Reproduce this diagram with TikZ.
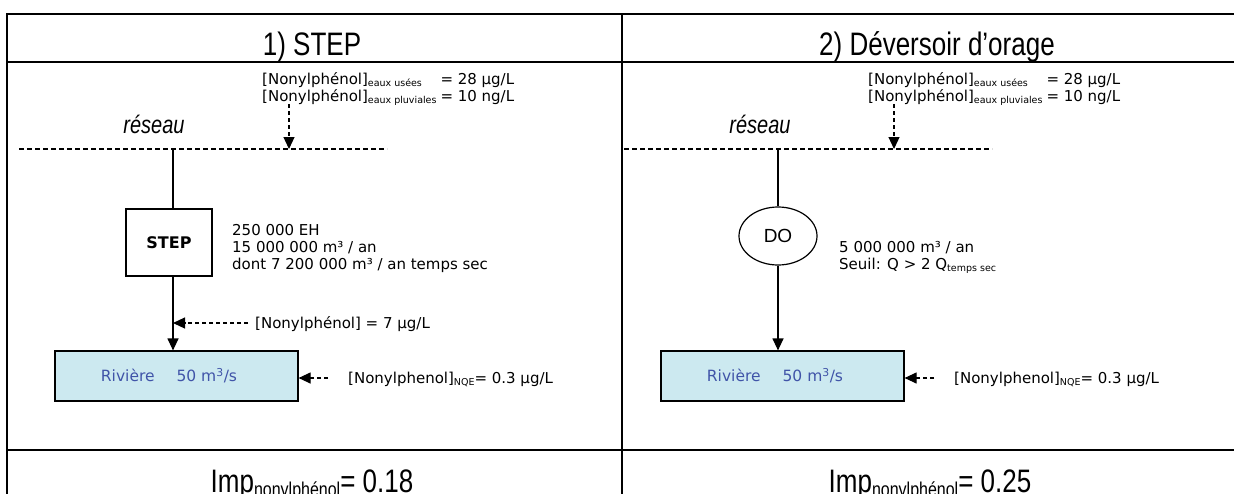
\documentclass[tikz,border=0pt]{standalone}
\usepackage{graphicx}
\usepackage{fontspec}
\setmainfont{DejaVu Sans}
\newfontfamily\arialfont{Liberation Sans}
\usetikzlibrary{arrows.meta,shapes.geometric}

\definecolor{riverfill}{RGB}{204,233,240}
\definecolor{rivertext}{RGB}{64,84,168}

\newcommand\lowtxt[2][9.5]{\raisebox{-0.15em}{\fontsize{#1}{#1}\selectfont #2}}
\newcommand\tall[1]{\scalebox{1}[1.25]{#1}}
\newcommand\nonyl{{[}Nonylphénol{]}}

\tikzset{
  rule/.style={line width=2.4pt},
  pipe/.style={line width=1.2pt},
  flow/.style={line width=1.2pt,-{Triangle[length=12pt,width=11pt]}},
  feed/.style={line width=1.2pt,dash pattern=on 4pt off 3pt,-{Triangle[length=12pt,width=11pt]}},
  net/.style={line width=1.2pt,dash pattern=on 5pt off 3pt},
  info/.style={anchor=base west,inner sep=0pt,font=\fontsize{15}{17}\selectfont},
  headtxt/.style={anchor=base,inner sep=0pt,font=\arialfont\fontsize{26}{28}\selectfont},
  restxt/.style={anchor=base,inner sep=0pt,font=\arialfont\itshape\fontsize{20}{22}\selectfont},
  imptxt/.style={anchor=base,inner sep=0pt,font=\arialfont\fontsize{26}{28}\selectfont},
  river/.style={draw,line width=1.2pt,fill=riverfill,text=rivertext,minimum width=243pt,
    minimum height=50pt,inner sep=0pt,font=\fontsize{15.5}{17}\selectfont},
}

\begin{document}
\begin{tikzpicture}[x=1pt,y=-1pt]
    \useasboundingbox (0,0) rectangle (1234,493);
    % table
    \draw[rule] (7,520) -- (7,14) -- (1250,14);
    \draw[rule] (7,62) -- (1250,62);
    \draw[rule] (7,450) -- (1250,450);
    \draw[rule] (622,14) -- (622,520);
    \node[headtxt] (head1) at (312,55) {\tall{1) STEP}};
    \node[headtxt] (head2) at (937,55) {\tall{2) Déversoir d’orage}};

    % 1) STEP
    \node[info] (conc1) at (262,84) {\begin{tabular}[t]{@{}l@{\hspace{4pt}}l@{}}
        \nonyl\lowtxt{eaux usées} & = 28 µg/L\\
        \nonyl\lowtxt{eaux pluviales} & = 10 ng/L\end{tabular}};
    \node[restxt] (res1) at (154,133) {\tall{réseau}};
    \coordinate (net1a) at (19,149);
    \coordinate (net1b) at (387,149);
    \draw[net] (net1a) -- (net1b);
    \coordinate (in1) at (289,104);
    \draw[feed] (in1) -- (in1 |- net1a);
    \node[draw,line width=1.2pt,minimum width=86pt,minimum height=67pt,inner sep=0pt,
      font=\bfseries\fontsize{16}{18}\selectfont] (step) at (169,242.5) {STEP};
    \coordinate (jn1) at (173,149);
    \draw[pipe] (jn1) -- (jn1 |- step.north);
    \node[info] (data1) at (232,235) {\begin{tabular}[t]{@{}l@{}}
        250 000 EH\\
        15 000 000 m³ / an\\
        dont 7 200 000 m³ / an temps sec\end{tabular}};
    \node[river] (riv1) at (176.5,376) {Rivière\hspace{22pt}50 m\textsuperscript{3}/s\hspace*{15pt}};
    \draw[flow] (jn1 |- step.south) -- (jn1 |- riv1.north);
    % effluent
    \coordinate (eff1) at (248,323);
    \draw[feed] (eff1) -- (eff1 -| jn1);
    \node[info] (out1) at (255,328) {\nonyl{} = 7 µg/L};
    % NQE
    \coordinate (nq1) at (328,378);
    \draw[feed] (nq1) -- (nq1 -| riv1.east);
    \node[info] (nqe1) at (348,383) {{[}Nonylphenol{]}\lowtxt{NQE}= 0.3 µg/L};
    \node[imptxt] (imp1) at (312,492) {\tall{Imp\lowtxt[16]{nonylphénol}= 0.18}};

    % 2) Deversoir d'orage
    \node[info] (conc2) at (868,84) {\begin{tabular}[t]{@{}l@{\hspace{4pt}}l@{}}
        \nonyl\lowtxt{eaux usées} & = 28 µg/L\\
        \nonyl\lowtxt{eaux pluviales} & = 10 ng/L\end{tabular}};
    \node[restxt] (res2) at (760,133) {\tall{réseau}};
    \coordinate (net2a) at (624,149);
    \coordinate (net2b) at (992,149);
    \draw[net] (net2a) -- (net2b);
    \coordinate (in2) at (894,104);
    \draw[feed] (in2) -- (in2 |- net2a);
    \node[draw,ellipse,line width=1.2pt,minimum width=78pt,minimum height=58pt,inner sep=0pt,
      font=\arialfont\fontsize{19}{21}\selectfont] (do) at (778,236) {DO};
    \coordinate (jn2) at (778,149);
    \draw[pipe] (jn2) -- (do.north);
    \node[info] (data2) at (839,252) {\begin{tabular}[t]{@{}l@{}}
        5 000 000 m³ / an\\
        Seuil: Q > 2 Q\lowtxt{temps sec}\end{tabular}};
    \node[river] (riv2) at (782.5,376) {Rivière\hspace{22pt}50 m\textsuperscript{3}/s\hspace*{15pt}};
    \draw[flow] (do.south) -- (do.south |- riv2.north);
    % NQE
    \coordinate (nq2) at (934,378);
    \draw[feed] (nq2) -- (nq2 -| riv2.east);
    \node[info] (nqe2) at (954,383) {{[}Nonylphenol{]}\lowtxt{NQE}= 0.3 µg/L};
    \node[imptxt] (imp2) at (930,492) {\tall{Imp\lowtxt[16]{nonylphénol}= 0.25}};
\end{tikzpicture}
\end{document}
